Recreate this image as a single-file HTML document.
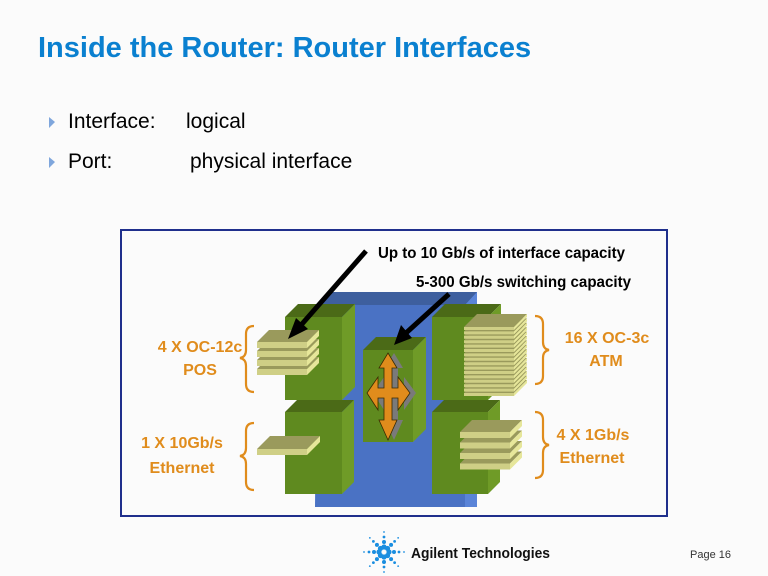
<!DOCTYPE html>
<html><head><meta charset="utf-8"><style>
html,body{margin:0;padding:0;background:#fbfbfb;}
body{width:768px;height:576px;position:relative;overflow:hidden;font-family:"Liberation Sans",sans-serif;}
.t{position:absolute;white-space:nowrap;}
</style></head><body>
<div class="t" style="left:38px;top:32px;font-size:29px;font-weight:bold;color:#0a80d0;">Inside the Router: Router Interfaces</div>
<div class="t" style="left:68px;top:110px;font-size:21px;color:#000;">Interface:</div>
<div class="t" style="left:186px;top:110px;font-size:21px;color:#000;">logical</div>
<div class="t" style="left:68px;top:150px;font-size:21px;color:#000;">Port:</div>
<div class="t" style="left:190px;top:150px;font-size:21px;color:#000;">physical interface</div>
<svg width="768" height="576" style="position:absolute;left:0;top:0" id="s" xmlns="http://www.w3.org/2000/svg">
<polygon points="49,117 55,122 49,128" fill="#7fa6dc"/>
<polygon points="49,157 55,162 49,168" fill="#7fa6dc"/>
<rect x="121" y="230" width="546" height="286" fill="#fbfbfb" stroke="#1f2f8c" stroke-width="2"/>
<polygon points="317,305 329,292 477,292 477,507 315,507" fill="#4a72c4"/>
<polygon points="317,305 329,292 477,292 465,305" fill="#3e5f9e"/>
<polygon points="465,305 477,292 477,507 465,507" fill="#5a84d8"/>
<g id="blocks"></g>
<g id="plates"></g>
<line x1="366" y1="251" x2="302" y2="324" stroke="#000" stroke-width="5"/>
<polygon points="288,339 296,318 308,329" fill="#000"/>
<line x1="449" y1="294" x2="406" y2="333" stroke="#000" stroke-width="5"/>
<polygon points="394,345 401,325 412,338" fill="#000"/>
<polygon transform="translate(6,0)" fill="#7a7a7a" points="388,353 397,368 392,368 392,388 398,388 398,377 410,393 398,410 398,398 392,398 392,420 397,420 388,440 379,420 384,420 384,398 378,398 378,410 367,393 378,377 378,388 384,388 384,368 379,368"/>
<polygon fill="#e08c1c" stroke="#3a2a00" stroke-width="0.8" points="388,353 397,368 392,368 392,388 398,388 398,377 410,393 398,410 398,398 392,398 392,420 397,420 388,440 379,420 384,420 384,398 378,398 378,410 367,393 378,377 378,388 384,388 384,368 379,368"/>
<g fill="none" stroke="#e08c1c" stroke-width="2.2">
<path d="M254,326 Q246,326 246,334 L246,350 Q246,357 240,358 Q246,359 246,366 L246,384 Q246,392 254,392"/>
<path d="M254,423 Q246,423 246,431 L246,448 Q246,455 240,456 Q246,457 246,464 L246,482 Q246,490 254,490"/>
<path d="M535,316 Q543,316 543,324 L543,342 Q543,349 549,350 Q543,351 543,358 L543,376 Q543,384 535,384"/>
<path d="M535,412 Q543,412 543,420 L543,437 Q543,444 549,445 Q543,446 543,453 L543,470 Q543,478 535,478"/>
</g>
<g font-family="'Liberation Sans Narrow','Liberation Sans',sans-serif" font-weight="bold" font-size="16">
<text x="378" y="258" textLength="247" lengthAdjust="spacingAndGlyphs" fill="#000">Up to 10 Gb/s of interface capacity</text>
<text x="416" y="287" textLength="215" lengthAdjust="spacingAndGlyphs" fill="#000">5-300 Gb/s switching capacity</text>
<g fill="#e08c1c" text-anchor="middle">
<text x="200" y="352">4 X OC-12c</text>
<text x="200" y="375">POS</text>
<text x="182" y="448">1 X 10Gb/s</text>
<text x="182" y="473">Ethernet</text>
<text x="607" y="343">16 X OC-3c</text>
<text x="606" y="366">ATM</text>
<text x="593" y="440">4 X 1Gb/s</text>
<text x="592" y="463">Ethernet</text>
</g></g>
<g id="logo" fill="#1a8ee0"></g>
<text x="411" y="558" font-family="'Liberation Sans Narrow','Liberation Sans',sans-serif" font-weight="bold" font-size="15" fill="#111" textLength="139" lengthAdjust="spacingAndGlyphs">Agilent Technologies</text>
<text x="690" y="558" font-size="11" fill="#333">Page 16</text>
</svg>
<script>
var NS="http://www.w3.org/2000/svg";
function poly(g,pts,f){var p=document.createElementNS(NS,"polygon");p.setAttribute("points",pts);p.setAttribute("fill",f);g.appendChild(p);}
var B=document.getElementById("blocks");
function block(x1,x2,y0,y1,d){
 var yt=y0+d;
 poly(B,x1+","+yt+" "+x2+","+yt+" "+x2+","+y1+" "+x1+","+y1,"#5f8a1f");
 poly(B,x1+","+yt+" "+(x1+d)+","+y0+" "+(x2+d)+","+y0+" "+x2+","+yt,"#4b6a17");
 poly(B,x2+","+yt+" "+(x2+d)+","+y0+" "+(x2+d)+","+(y1-d)+" "+x2+","+y1,"#6f9b27");
}
block(285,342,304,400,13);
block(285,342,400,494,12);
block(363,413,337,442,13);
block(432,488,304,400,13);
block(432,488,400,494,12);
var P=document.getElementById("plates");
function stack(x1,x2,top,d,th,n,sp){
 for(var i=n-1;i>=0;i--){
  var t=top+i*sp, f=t+d, b=f+th;
  poly(P,x1+","+f+" "+(x1+d)+","+t+" "+(x2+d)+","+t+" "+x2+","+f,"#9a9a5c");
  poly(P,x1+","+f+" "+x2+","+f+" "+x2+","+b+" "+x1+","+b,"#cfcf86");
  poly(P,x2+","+f+" "+(x2+d)+","+t+" "+(x2+d)+","+(t+th)+" "+x2+","+b,"#e6e69a");
 }
}
stack(257,307,330,12,6,4,9);
stack(257,307,436,13,6,1,0);
stack(464,514,314,13,3,16,4.4);
stack(460,510,420,12,6,4,10.5);
var L=document.getElementById("logo");
for(var k=0;k<8;k++){var a=k*Math.PI/4;[5,10,15,20].forEach(function(r,j){var c=document.createElementNS(NS,"circle");c.setAttribute("cx",384+r*Math.cos(a));c.setAttribute("cy",552+r*Math.sin(a));c.setAttribute("r",[2.6,2,1.4,0.9][j]);L.appendChild(c);});}
</script>
</body></html>
